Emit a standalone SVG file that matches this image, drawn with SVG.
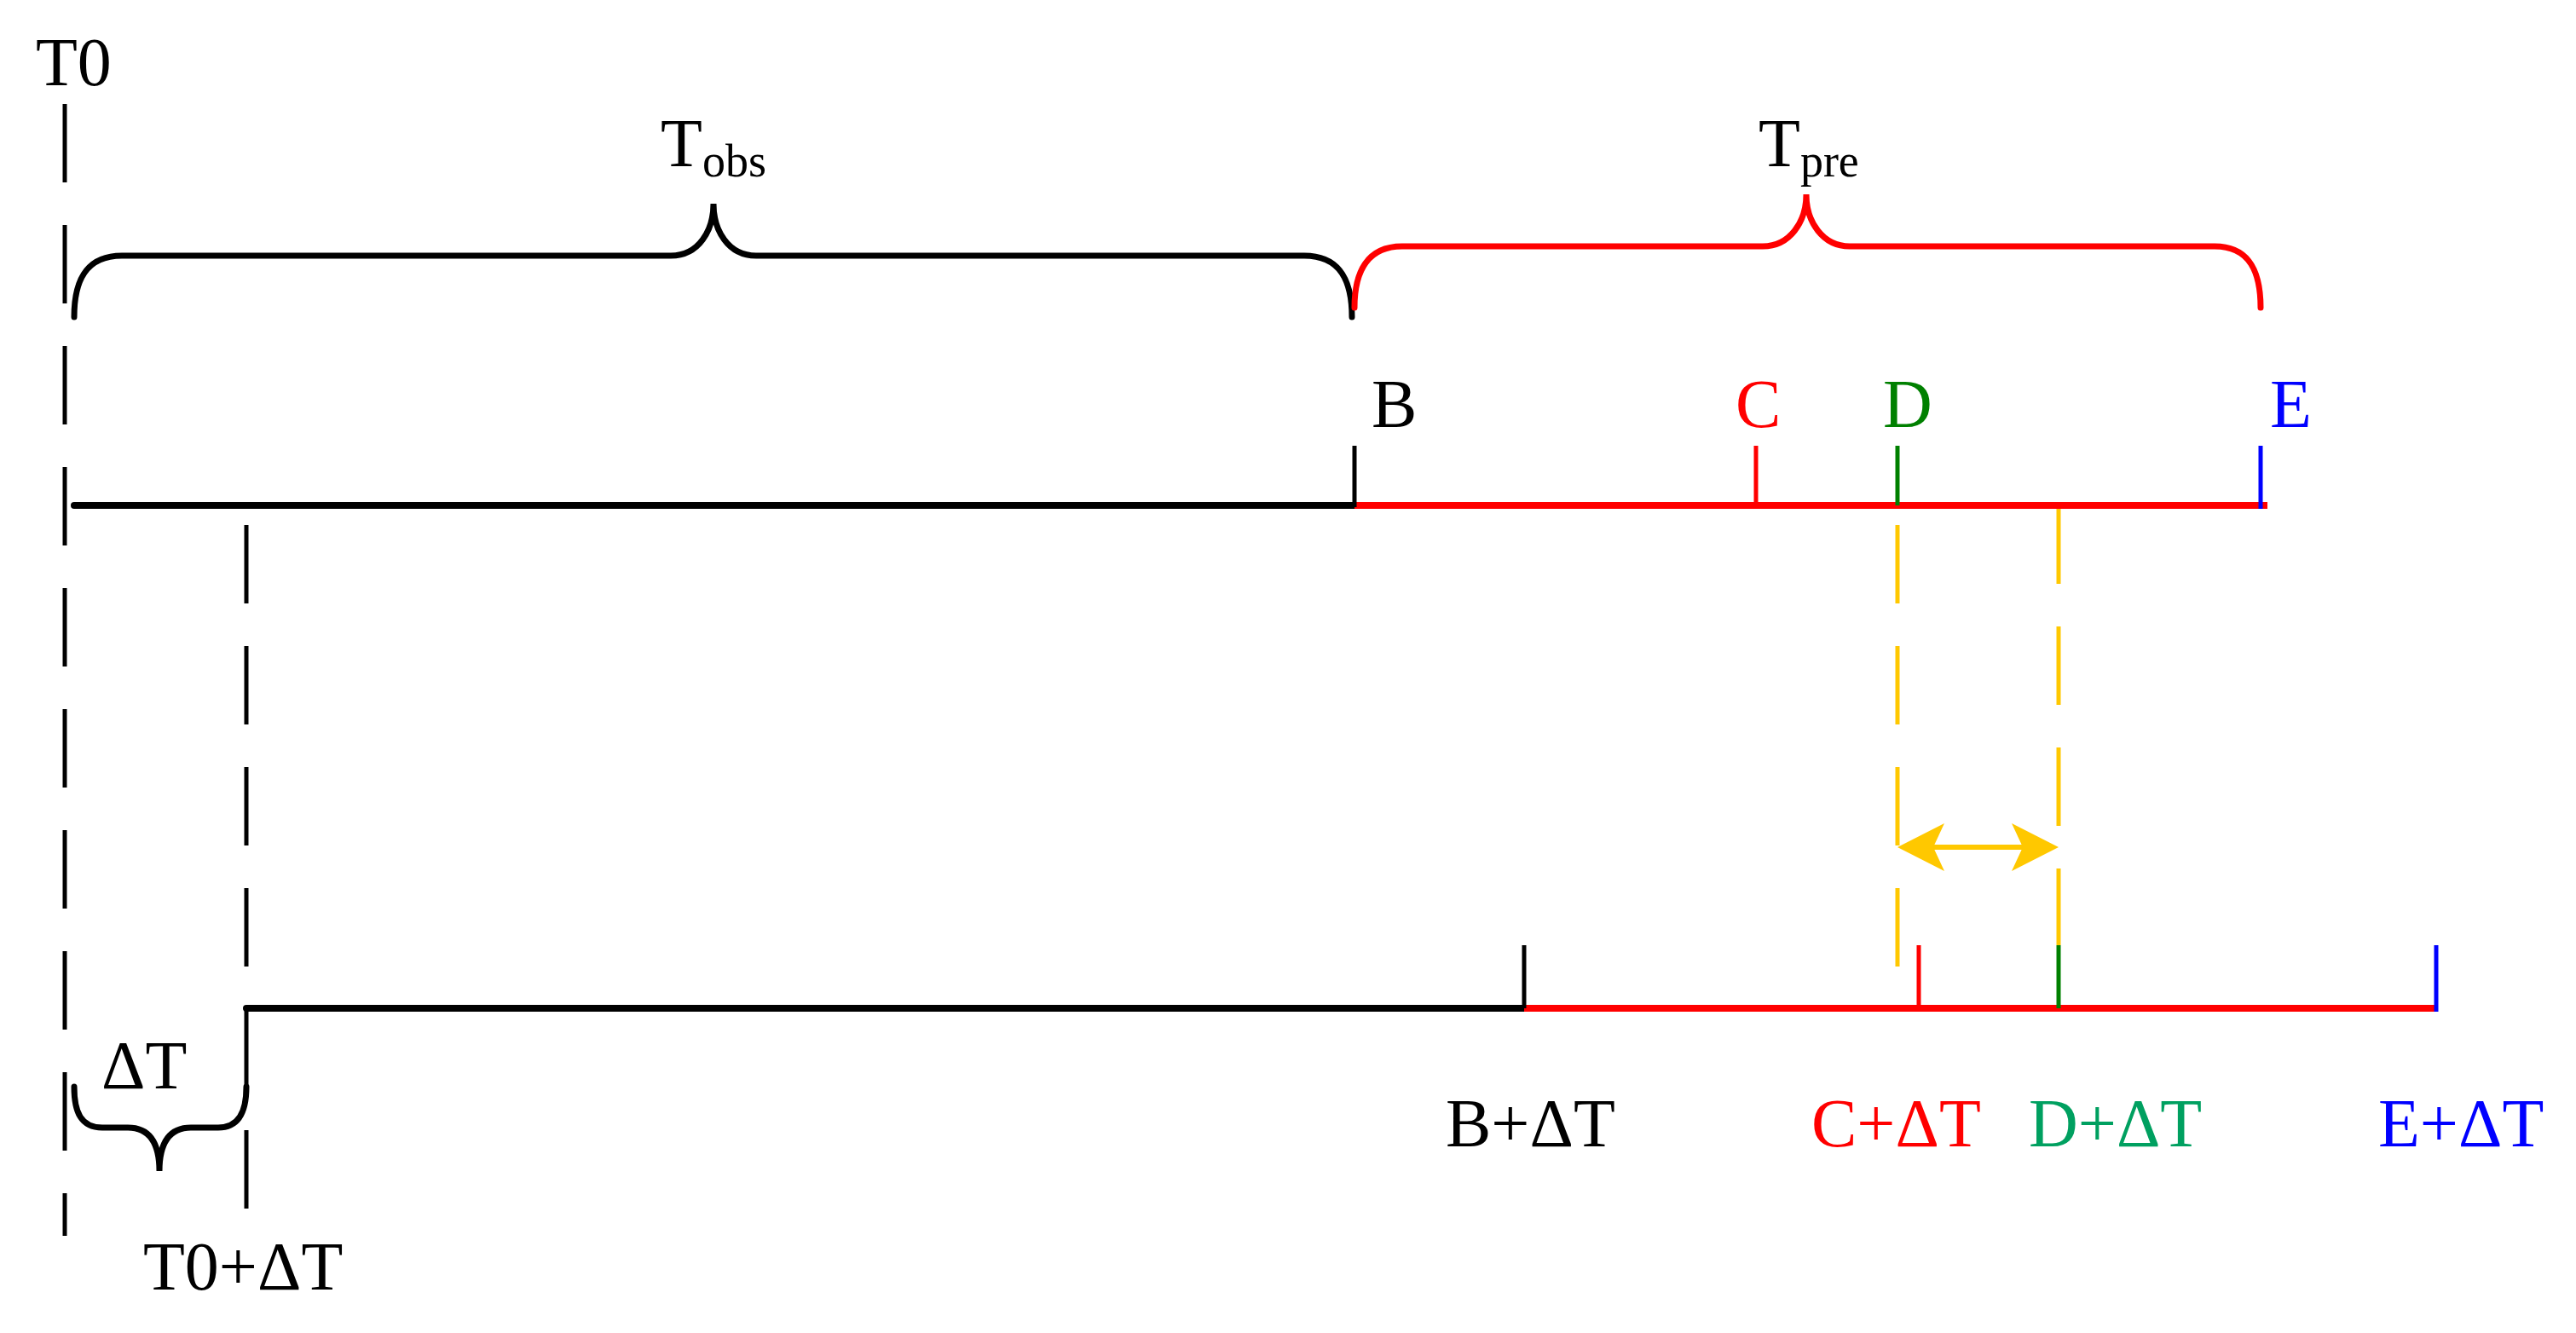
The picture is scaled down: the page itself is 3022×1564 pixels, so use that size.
<svg xmlns="http://www.w3.org/2000/svg" width="3022" height="1564" viewBox="0 0 3022 1564">
<style>
text{font-family:"Liberation Serif","Times New Roman",serif;font-size:80px}
.sub{font-size:54px}
.dash{stroke:#000;stroke-width:5;stroke-dasharray:92 50;fill:none}
.ydash{stroke:#FFC800;stroke-width:5;stroke-dasharray:92 50;fill:none}
.brace{fill:none;stroke-width:7;stroke-linecap:round}
.tick{stroke-width:5}
</style>
<rect width="3022" height="1564" fill="#fff"/>
<g id="guides">
<line class="dash" x1="76" y1="122" x2="76" y2="1450"/>
<line class="dash" x1="289" y1="616" x2="289" y2="1450"/>
<line class="ydash" x1="2226" y1="616" x2="2226" y2="1141"/>
<line class="ydash" x1="2415" y1="593" x2="2415" y2="1109"/>
</g>
<g id="timeline1">
<line x1="87" y1="593" x2="1589" y2="593" stroke="#000" stroke-width="8" stroke-linecap="round"/>
<line x1="1589" y1="593" x2="2660" y2="593" stroke="#f00" stroke-width="8"/>
<line class="tick" x1="1589" y1="523" x2="1589" y2="595" stroke="#000"/>
<line class="tick" x1="2060" y1="523" x2="2060" y2="593" stroke="#f00"/>
<line class="tick" x1="2226" y1="523" x2="2226" y2="593" stroke="#008000"/>
<line class="tick" x1="2652" y1="523" x2="2652" y2="597" stroke="#00f"/>
</g>
<g id="timeline2">
<line x1="289" y1="1183" x2="1788" y2="1183" stroke="#000" stroke-width="8" stroke-linecap="round"/>
<line x1="1788" y1="1183" x2="2858" y2="1183" stroke="#f00" stroke-width="8"/>
<line class="tick" x1="1788" y1="1109" x2="1788" y2="1183" stroke="#000"/>
<line class="tick" x1="2251" y1="1109" x2="2251" y2="1183" stroke="#f00"/>
<line class="tick" x1="2415" y1="1109" x2="2415" y2="1183" stroke="#008000"/>
<line class="tick" x1="2858" y1="1109" x2="2858" y2="1187" stroke="#00f"/>
</g>
<g id="braces">
<path class="brace" stroke="#000" d="M87,372 C87,330 100,300 143,300 L787,300 C820,300 837,270 837,239 C837,270 854,300 887,300 L1530,300 C1573,300 1586,330 1586,372"/>
<path class="brace" stroke="#f00" d="M1589,361 C1589,320 1603,289 1645,289 L2068,289 C2100,289 2119,260 2119,228 C2119,260 2138,289 2170,289 L2598,289 C2640,289 2652,320 2652,361"/>
<path class="brace" stroke="#000" stroke-width="6" d="M87,1275 C87,1305 95,1323 120,1323 L150,1323 C178,1323 187,1345 187,1374 C187,1345 196,1323 224,1323 L256,1323 C280,1323 289,1305 289,1275"/>
</g>
<g id="arrow">
<line x1="2250" y1="994" x2="2392" y2="994" stroke="#FFC800" stroke-width="6"/>
<polygon points="2226,994 2281,966 2268,994 2281,1022" fill="#FFC800"/>
<polygon points="2415,994 2360,966 2373,994 2360,1022" fill="#FFC800"/>
</g>
<g id="labels">
<text x="42" y="100">T0</text>
<text x="775" y="195">T<tspan class="sub" dy="12">obs</tspan></text>
<text x="2063" y="195">T<tspan class="sub" dy="12">pre</tspan></text>
<text x="1609" y="501">B</text>
<text x="2036" y="501" fill="#f00">C</text>
<text x="2209" y="501" fill="#008000">D</text>
<text x="2663" y="501" fill="#00f">E</text>
<text x="119" y="1277">ΔT</text>
<text x="168" y="1513">T0+ΔT</text>
<text x="1696" y="1345">B+ΔT</text>
<text x="2125" y="1345" fill="#f00">C+ΔT</text>
<text x="2380" y="1345" fill="#00A060">D+ΔT</text>
<text x="2790" y="1345" fill="#00f">E+ΔT</text>
</g>
</svg>
